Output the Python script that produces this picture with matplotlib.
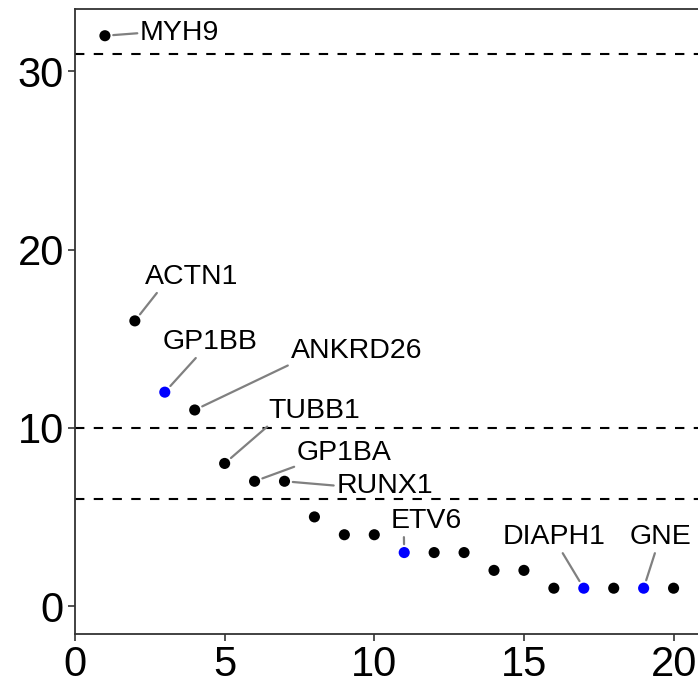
import matplotlib
matplotlib.use("Agg")
from matplotlib import pyplot as plt

plt.rcParams['font.family'] = ['Liberation Sans', 'DejaVu Sans']

# ranks and counts
rank = list(range(1, 21))
count = [32, 16, 12, 11, 8, 7, 7, 5, 4, 4, 3, 3, 3, 2, 2, 1, 1, 1, 1, 1]
highlight = [3, 11, 17, 19]          # blue points
cutoffs = [31, 10, 6]

genes = ['MYH9', 'ACTN1', 'GP1BB', 'ANKRD26', 'TUBB1', 'GP1BA', 'RUNX1',
         'ETV6', 'DIAPH1', 'GNE']
gene_rank = [1, 2, 3, 4, 5, 6, 7, 11, 17, 19]

# label placement (data coords) and where the segment meets the text box
label_pos = {
    'MYH9': ((3.5, 32.15), (0, 0.5)),
    'ACTN1': ((3.9, 18.45), (0.15, 0)),
    'GP1BB': ((4.5, 14.8), (0.38, 0)),
    'ANKRD26': ((9.4, 14.3), (0, 0)),
    'TUBB1': ((8.0, 10.95), (0.02, 0)),
    'GP1BA': ((9.0, 8.6), (0, 0)),
    'RUNX1': ((10.35, 6.75), (0, 0.5)),
    'ETV6': ((11.75, 4.75), (0.18, 0)),
    'DIAPH1': ((16.0, 3.85), (0.57, 0)),
    'GNE': ((19.55, 3.85), (0.43, 0)),
}

fig = plt.figure(figsize=(6.98, 6.81), dpi=100)
ax = fig.add_axes([75 / 698, 47 / 681, 627 / 698, 625 / 681])

for c in cutoffs:
    ax.axhline(c, color='black', lw=1.5, ls=(0, (4.5, 4.5)), zorder=1)

colors = ['#0000FF' if r in highlight else 'black' for r in rank]
ax.scatter(rank, count, s=64, c=colors, edgecolors='none', zorder=3)

for g, r in zip(genes, gene_rank):
    y = count[rank.index(r)]
    pos, rel = label_pos[g]
    ax.annotate(g, xy=(r, y), xytext=pos, ha='center', va='center',
                fontsize=20.5, color='black', zorder=4,
                arrowprops=dict(arrowstyle='-', color='#808080', lw=1.6,
                                shrinkA=0, shrinkB=6, relpos=rel))

ax.set_xlim(0.05, 20.95)
ax.set_ylim(-1.57, 33.5)
ax.set_xticks([0, 5, 10, 15, 20])
ax.set_yticks([0, 10, 20, 30])
ax.tick_params(labelsize=30, length=5, width=1.2, color='#333333', pad=3)
for s in ax.spines.values():
    s.set_color('#333333')
    s.set_linewidth(1.3)

fig.savefig('out.png', dpi=100)
